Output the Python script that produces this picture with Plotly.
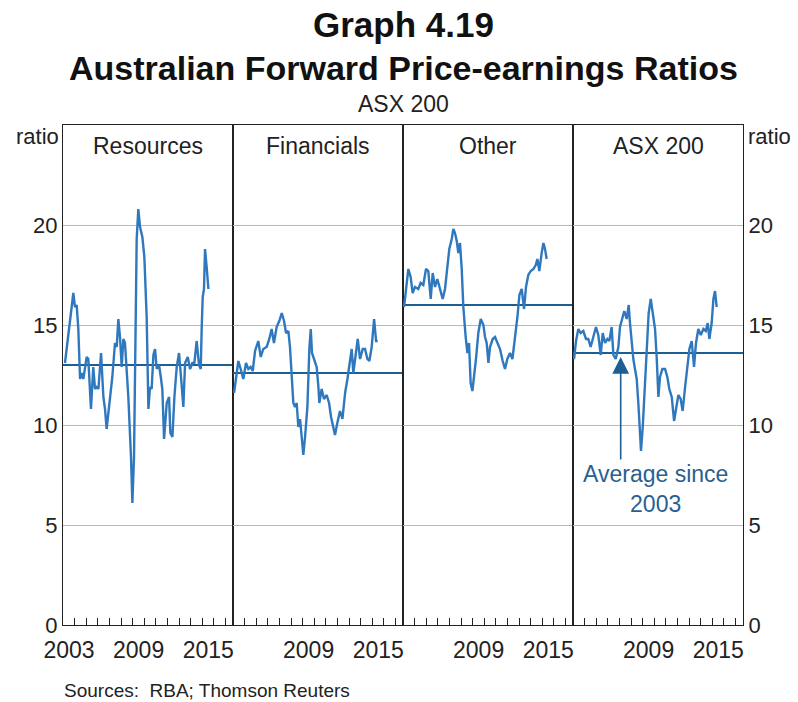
import plotly.graph_objects as go

# ---------------- data ----------------
panel_titles = ["Resources", "Financials", "Other", "ASX 200"]

res_years = [2003.17, 2003.46, 2003.89, 2004.03, 2004.18, 2004.32, 2004.47, 2004.61, 2004.75, 2005.04,
             2005.18, 2005.41, 2005.61, 2005.76, 2005.90, 2006.05, 2006.28, 2006.48, 2006.62, 2006.76,
             2006.97, 2007.25, 2007.48, 2007.63, 2007.77, 2007.91, 2008.06, 2008.20, 2008.34, 2008.49,
             2008.63, 2008.86, 2008.98, 2009.12, 2009.21, 2009.35, 2009.49, 2009.64, 2009.84, 2010.01,
             2010.21, 2010.36, 2010.50, 2010.64, 2010.79, 2010.93, 2011.08, 2011.28, 2011.45, 2011.56,
             2011.71, 2011.94, 2012.14, 2012.25, 2012.43, 2012.60, 2012.80, 2013.00, 2013.17, 2013.37,
             2013.52, 2013.75, 2013.95, 2014.15, 2014.32, 2014.52, 2014.72, 2014.87, 2014.95, 2015.04,
             2015.15, 2015.24, 2015.38, 2015.53]
res_values = [13.1, 14.4, 16.6, 15.9, 16.0, 14.8, 12.3, 12.6, 12.3, 13.4,
              13.3, 10.8, 12.9, 11.8, 11.9, 11.8, 13.6, 11.4, 10.8, 9.8,
              10.9, 12.4, 14.1, 13.9, 15.3, 14.4, 12.9, 14.3, 14.1, 12.7,
              11.4, 8.4, 6.1, 8.4, 12.4, 19.3, 20.8, 19.9, 19.4, 18.4,
              15.4, 10.8, 11.9, 11.8, 13.5, 13.8, 12.8, 13.0, 12.3, 11.8,
              9.3, 11.1, 11.4, 9.6, 9.4, 11.4, 12.9, 13.6, 12.4, 10.9,
              13.1, 13.4, 12.8, 13.1, 13.1, 14.2, 13.0, 12.8, 14.8, 16.4,
              16.8, 18.8, 17.9, 16.8]

fin_years = [2003.09, 2003.26, 2003.46, 2003.66, 2003.89, 2004.12, 2004.32, 2004.52, 2004.70, 2004.90,
             2005.18, 2005.39, 2005.61, 2005.90, 2006.13, 2006.33, 2006.53, 2006.76, 2006.99, 2007.20,
             2007.40, 2007.57, 2007.77, 2007.91, 2008.06, 2008.20, 2008.34, 2008.49, 2008.63, 2008.78,
             2008.92, 2009.06, 2009.21, 2009.41, 2009.58, 2009.70, 2009.81, 2009.98, 2010.21, 2010.36,
             2010.44, 2010.64, 2010.84, 2011.07, 2011.28, 2011.45, 2011.65, 2011.79, 2011.99, 2012.22,
             2012.43, 2012.66, 2012.86, 2013.03, 2013.23, 2013.37, 2013.60, 2013.75, 2013.95, 2014.18,
             2014.38, 2014.58, 2014.75, 2014.95, 2015.16, 2015.33, 2015.47]
fin_values = [11.6, 12.4, 13.2, 12.8, 12.3, 13.1, 12.8, 12.9, 12.7, 13.7,
              14.2, 13.4, 13.8, 13.9, 14.3, 14.8, 14.1, 14.9, 15.2, 15.6,
              15.2, 14.6, 14.7, 13.9, 12.4, 11.1, 10.9, 11.1, 9.9, 10.3,
              9.4, 8.5, 9.4, 10.9, 13.8, 14.8, 13.6, 13.3, 12.9, 11.9,
              11.1, 11.8, 11.3, 11.5, 11.1, 10.4, 9.9, 9.5, 10.1, 10.7,
              10.3, 11.6, 12.3, 13.1, 13.8, 12.6, 13.7, 14.3, 13.3, 13.8,
              13.8, 13.3, 13.2, 13.9, 15.3, 14.2, 14.2]

oth_years = [2003.09, 2003.26, 2003.46, 2003.66, 2003.83, 2004.03, 2004.32, 2004.52, 2004.75, 2004.98,
             2005.18, 2005.39, 2005.56, 2005.76, 2005.96, 2006.19, 2006.42, 2006.62, 2006.82, 2006.99,
             2007.20, 2007.34, 2007.48, 2007.63, 2007.77, 2007.91, 2008.06, 2008.20, 2008.40, 2008.55,
             2008.69, 2008.83, 2008.98, 2009.12, 2009.29, 2009.49, 2009.70, 2009.93, 2010.07, 2010.21,
             2010.36, 2010.50, 2010.73, 2010.93, 2011.13, 2011.36, 2011.59, 2011.79, 2011.99, 2012.22,
             2012.43, 2012.66, 2012.86, 2013.03, 2013.23, 2013.43, 2013.60, 2013.80, 2014.01, 2014.24,
             2014.44, 2014.58, 2014.75, 2014.95, 2015.10, 2015.24, 2015.38]
oth_values = [15.9, 16.9, 17.8, 17.4, 16.6, 16.9, 16.8, 17.1, 17.0, 17.8,
              17.7, 16.3, 17.6, 16.9, 17.3, 16.8, 16.3, 16.8, 17.8, 18.8,
              19.3, 19.8, 19.6, 19.2, 18.6, 19.1, 17.8, 15.9, 14.4, 13.6,
              14.1, 12.1, 11.7, 12.3, 13.3, 14.6, 15.3, 15.0, 14.4, 14.1,
              13.1, 13.9, 14.3, 14.4, 14.1, 13.8, 13.2, 12.8, 13.3, 13.6,
              13.3, 14.3, 15.4, 16.5, 16.8, 15.8, 16.9, 17.5, 17.7, 17.8,
              18.0, 18.3, 17.7, 18.6, 19.1, 18.8, 18.3]

asx_years = [2003.09, 2003.26, 2003.46, 2003.66, 2003.89, 2004.12, 2004.32, 2004.52, 2004.75, 2004.98,
             2005.18, 2005.39, 2005.56, 2005.76, 2005.96, 2006.13, 2006.33, 2006.48, 2006.68, 2006.91,
             2007.05, 2007.25, 2007.42, 2007.63, 2007.80, 2007.91, 2008.06, 2008.20, 2008.34, 2008.49,
             2008.63, 2008.78, 2008.86, 2009.01, 2009.18, 2009.35, 2009.52, 2009.70, 2009.87, 2010.07,
             2010.21, 2010.36, 2010.50, 2010.70, 2010.93, 2011.13, 2011.30, 2011.51, 2011.71, 2011.88,
             2012.08, 2012.28, 2012.45, 2012.66, 2012.86, 2013.03, 2013.23, 2013.43, 2013.60, 2013.80,
             2014.01, 2014.24, 2014.44, 2014.61, 2014.75, 2014.95, 2015.10, 2015.24, 2015.38]
asx_values = [13.3, 14.2, 14.8, 14.6, 14.7, 14.3, 14.3, 13.9, 14.4, 14.9,
              14.5, 13.5, 14.6, 14.1, 14.3, 14.2, 14.9, 13.5, 13.3, 13.9,
              14.9, 15.4, 15.7, 15.3, 16.0, 15.1, 13.9, 13.3, 12.8, 12.3,
              11.1, 9.8, 8.7, 9.9, 11.8, 13.9, 15.6, 16.3, 15.6, 14.8,
              13.4, 11.4, 12.4, 12.8, 12.8, 12.4, 11.8, 11.4, 10.2, 10.8,
              11.5, 11.3, 10.7, 11.9, 12.8, 13.8, 14.2, 12.9, 14.1, 14.8,
              14.5, 14.8, 14.7, 15.1, 14.3, 15.1, 16.3, 16.7, 15.9]

averages = [13.0, 12.6, 16.0, 13.6]          # average since 2003, per panel
avg_span = [2003.0, 2017.65]                 # the average line spans the full panel

tick_years = list(range(2003, 2018))                       # a tick mark each year
label_years = [[2003, 2009, 2015], [2009, 2015], [2009, 2015], [2009, 2015]]
y_ticks = [0, 5, 10, 15, 20]

arrow_year, arrow_tip, arrow_tail = 2007.11, 13.4, 8.2

series_years = [res_years, fin_years, oth_years, asx_years]
series_values = [res_values, fin_values, oth_values, asx_values]
for a, b in zip(series_years, series_values):
    assert len(a) == len(b), (len(a), len(b))

# ---------------- styling ----------------
FONT = "Liberation Sans, Arial, sans-serif"
LINE_BLUE = "#2f78bd"
AVG_BLUE = "#1d5e93"
TEXT_BLUE = "#2a5f94"
GRID = "#b9b9b9"
XMAX = 2017.65
L, R, T, B = 63, 55, 125, 77
W, H = 798, 702
PW, PH = W - L - R, H - T - B
YEAR_PX = (PW / 4) / (XMAX - 2003)

fig = go.Figure()

for i in range(4):
    xa = "x" if i == 0 else f"x{i+1}"
    ya = "y" if i == 0 else f"y{i+1}"
    fig.add_trace(go.Scatter(x=avg_span, y=[averages[i]] * 2, xaxis=xa, yaxis=ya,
                             mode="lines", line=dict(color=AVG_BLUE, width=1.8),
                             hoverinfo="skip", showlegend=False))
    fig.add_trace(go.Scatter(x=series_years[i], y=series_values[i], xaxis=xa, yaxis=ya,
                             mode="lines", line=dict(color=LINE_BLUE, width=2.4),
                             showlegend=False))

layout = dict(
    width=W, height=H,
    margin=dict(l=L, r=R, t=T, b=B, autoexpand=False),
    paper_bgcolor="white", plot_bgcolor="white",
    font=dict(family=FONT, color="#222222", size=23),
    showlegend=False,
)

for i in range(4):
    xkey = "xaxis" if i == 0 else f"xaxis{i+1}"
    ykey = "yaxis" if i == 0 else f"yaxis{i+1}"
    ya = "y" if i == 0 else f"y{i+1}"
    xa = "x" if i == 0 else f"x{i+1}"
    texts = [str(yr) if yr in label_years[i] else "" for yr in tick_years]
    layout[xkey] = dict(
        domain=[i * 0.25, (i + 1) * 0.25], anchor=ya, automargin=False,
        range=[2003, XMAX], tickmode="array",
        tickvals=tick_years, ticktext=texts,
        ticks="inside", ticklen=7, tickwidth=1, tickcolor="#222222",
        ticklabelshift=int(round(YEAR_PX / 2)), ticklabelstandoff=4,
        showgrid=False, zeroline=False,
        showline=True, linecolor="#222222", linewidth=1.3, mirror=True,
        tickfont=dict(size=23, color="#222222"),
    )
    layout[ykey] = dict(
        domain=[0, 1], anchor=xa, range=[0, 25], automargin=False,
        tickmode="array", tickvals=y_ticks, ticks="",
        showgrid=True, gridcolor=GRID, gridwidth=1, zeroline=False,
        showline=True, linecolor="#222222", linewidth=1.3, mirror=True,
        showticklabels=(i == 0 or i == 3), side=("right" if i == 3 else "left"),
        tickfont=dict(size=22, color="#222222"),
    )

fig.update_layout(**layout)


def px_x(px):
    return (px - L) / PW


def px_y(py):
    return (H - B - py) / PH


ann = []
ann.append(dict(text="<b>Graph 4.19</b>", x=0.5, y=px_y(24), xref="paper", yref="paper",
                xanchor="center", yanchor="middle",
                showarrow=False, font=dict(size=35, color="#111111")))
ann.append(dict(text="<b>Australian Forward Price-earnings Ratios</b>", x=0.5, y=px_y(68),
                xref="paper", yref="paper", xanchor="center", yanchor="middle",
                showarrow=False, font=dict(size=34, color="#111111")))
ann.append(dict(text="ASX 200", x=0.5, y=px_y(104), xref="paper", yref="paper",
                xanchor="center", yanchor="middle",
                showarrow=False, font=dict(size=23, color="#222222")))
ann.append(dict(text="ratio", x=0.0, y=px_y(136), xref="paper", yref="paper", xanchor="right",
                yanchor="middle", xshift=-2, showarrow=False, font=dict(size=22, color="#222222")))
ann.append(dict(text="ratio", x=1.0, y=px_y(136), xref="paper", yref="paper", xanchor="left",
                yanchor="middle", xshift=3, showarrow=False, font=dict(size=22, color="#222222")))
for i, t in enumerate(panel_titles):
    ann.append(dict(text=t, x=i * 0.25 + 0.125, y=px_y(146), xref="paper", yref="paper",
                    xanchor="center", yanchor="middle",
                    showarrow=False, font=dict(size=23, color="#222222")))
ann.append(dict(text="Sources:  RBA; Thomson Reuters", x=px_x(62), y=px_y(690),
                xref="paper", yref="paper", xanchor="left", yanchor="middle",
                showarrow=False, font=dict(size=19, color="#222222")))

# annotation arrow in ASX 200 panel
ann.append(dict(text="", x=arrow_year, y=arrow_tip, xref="x4", yref="y4",
                ax=arrow_year, ay=arrow_tail, axref="x4", ayref="y4",
                showarrow=True, arrowhead=2, arrowsize=2.1, arrowwidth=1.6,
                arrowcolor=AVG_BLUE))
ann.append(dict(text="Average since<br>2003", x=2010.15, y=6.8, xref="x4", yref="y4",
                xanchor="center", yanchor="middle",
                showarrow=False, font=dict(size=23, color=TEXT_BLUE), align="center"))

fig.update_layout(annotations=ann)
fig.write_html("out.html", config={"displayModeBar": False})

# remove the browser's default page margin so the figure sits at the window's top-left
with open("out.html", "r", encoding="utf-8") as f:
    html = f.read()
html = html.replace("<head>", "<head><style>html,body{margin:0;padding:0;overflow:hidden;}</style>", 1)
with open("out.html", "w", encoding="utf-8") as f:
    f.write(html)
